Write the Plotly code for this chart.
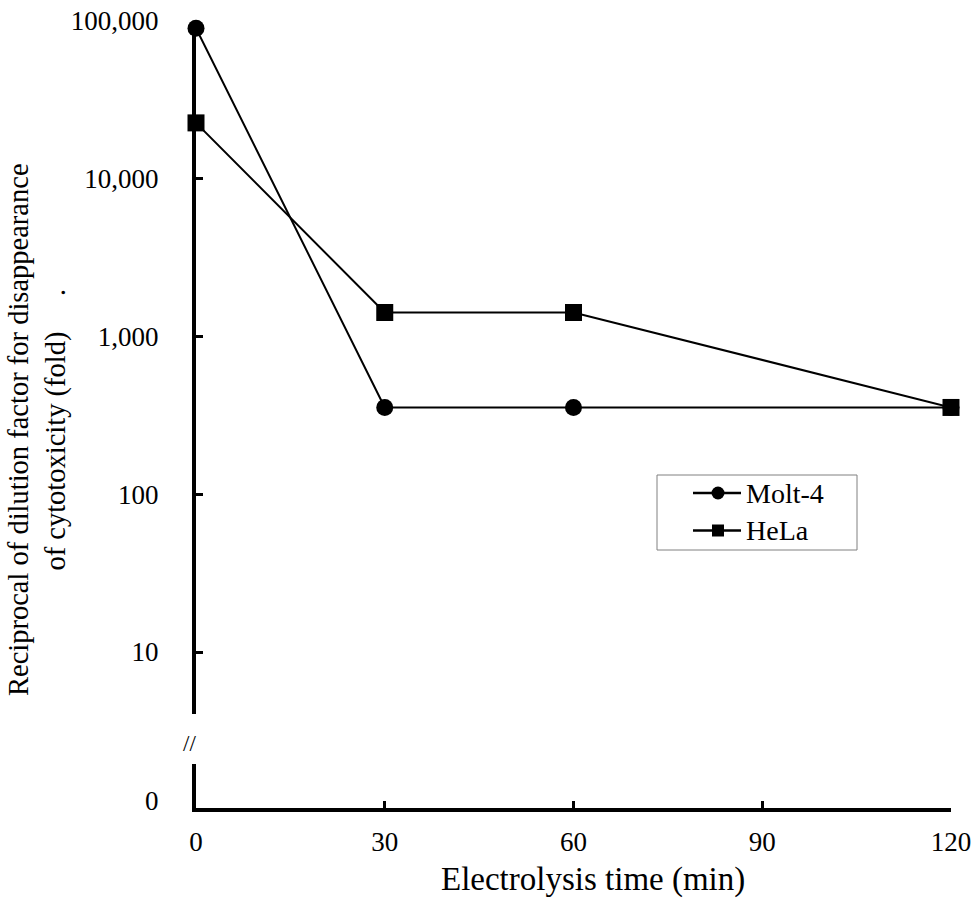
import plotly.graph_objects as go

# ---- data ----
time_min = [0, 30, 60, 120]
molt4 = [90000, 355, 355, 355]
hela = [22600, 1420, 1420, 355]
series_names = ["Molt-4", "HeLa"]
series_symbols = ["circle", "square"]
x_ticks = [0, 30, 60, 90, 120]
y_ticks = [10, 100, 1000, 10000, 100000]
y_ticktext = ["10", "100", "1,000", "10,000", "100,000"]
zero_tick = [0]
zero_ticktext = ["0"]

FONT = "Liberation Serif, Times New Roman, serif"
W, H = 976, 904
ML, MR, MT, MB = 196, 25, 21, 96
plot_w = W - ML - MR
plot_h = H - MT - MB


def px(p):
    return (p - ML) / plot_w


def py(p):
    return (H - MB - p) / plot_h


main_bottom = py(714)
low_top = py(764)

fig = go.Figure()
for name, vals, sym in zip(series_names, [molt4, hela], series_symbols):
    fig.add_trace(go.Scatter(
        x=time_min, y=vals, name=name, mode="lines+markers",
        line=dict(color="black", width=2),
        marker=dict(symbol=sym, size=17, color="black"),
        cliponaxis=False, xaxis="x", yaxis="y", showlegend=False))
fig.add_trace(go.Scatter(x=[None], y=[None], showlegend=False,
                         xaxis="x", yaxis="y2", hoverinfo="skip"))

# ---- legend drawn as a boxed key ----
shapes = [dict(type="rect", xref="paper", yref="paper",
               x0=px(657), x1=px(857), y0=py(550), y1=py(475),
               line=dict(color="#808080", width=1), fillcolor="white",
               layer="above")]
annotations = []
for i, (name, sym) in enumerate(zip(series_names, series_symbols)):
    yc = 493 + 37.5 * i
    shapes.append(dict(type="line", xref="paper", yref="paper",
                       x0=px(693), x1=px(741), y0=py(yc), y1=py(yc),
                       line=dict(color="black", width=2.5), layer="above"))
    half = 6.5 if sym == "circle" else 6
    shapes.append(dict(type="circle" if sym == "circle" else "rect",
                       xref="paper", yref="paper",
                       x0=px(718 - half), x1=px(718 + half),
                       y0=py(yc + half), y1=py(yc - half),
                       line=dict(color="black", width=0), fillcolor="black",
                       layer="above"))
    annotations.append(dict(text=name, xref="paper", yref="paper",
                            x=px(744), y=py(yc), xanchor="left", yanchor="middle",
                            showarrow=False, font=dict(family=FONT, size=28)))

annotations += [
    dict(text="Reciprocal of dilution factor for disappearance<br>"
              "of cytotoxicity (fold)&nbsp;&nbsp;&nbsp;&nbsp;&nbsp;.",
         xref="paper", yref="paper", x=px(37), y=py(430),
         xanchor="center", yanchor="middle", textangle=-90,
         showarrow=False, font=dict(family=FONT, size=28.5)),
    dict(text="Electrolysis time (min)", xref="paper", yref="paper",
         x=px(593), y=py(880), xanchor="center", yanchor="middle",
         showarrow=False, font=dict(family=FONT, size=33)),
    dict(text="//", xref="paper", yref="paper", x=px(189), y=py(743),
         xanchor="center", yanchor="middle", showarrow=False,
         font=dict(family=FONT, size=23)),
]

fig.update_layout(
    width=W, height=H, autosize=False,
    margin=dict(l=ML, r=MR, t=MT, b=MB, pad=0, autoexpand=False),
    paper_bgcolor="white", plot_bgcolor="white",
    font=dict(family=FONT, size=27, color="black"),
    showlegend=False,
    xaxis=dict(
        range=[0, 120], anchor="y2", domain=[0, 1], automargin=False,
        showline=True, linewidth=4, linecolor="black",
        ticks="inside", ticklen=7, tickwidth=3, tickcolor="black",
        tickvals=x_ticks, showgrid=False, zeroline=False,
        ticklabelstandoff=7,
    ),
    yaxis=dict(
        type="log", range=[0.607, 5], domain=[main_bottom, 1], anchor="x",
        automargin=False,
        showline=True, linewidth=4, linecolor="black",
        ticks="inside", ticklen=7, tickwidth=3, tickcolor="black",
        tickvals=y_ticks, ticktext=y_ticktext,
        showgrid=False, zeroline=False, ticklabelstandoff=28,
    ),
    yaxis2=dict(
        range=[-0.2, 1], domain=[0, low_top], anchor="x", automargin=False,
        showline=True, linewidth=4, linecolor="black",
        ticks="", tickvals=zero_tick, ticktext=zero_ticktext,
        showgrid=False, zeroline=False, ticklabelstandoff=28,
    ),
    shapes=shapes,
    annotations=annotations,
)

fig.write_html("out.html", config={"displayModeBar": False},
               post_script="document.body.style.margin='0px';")
